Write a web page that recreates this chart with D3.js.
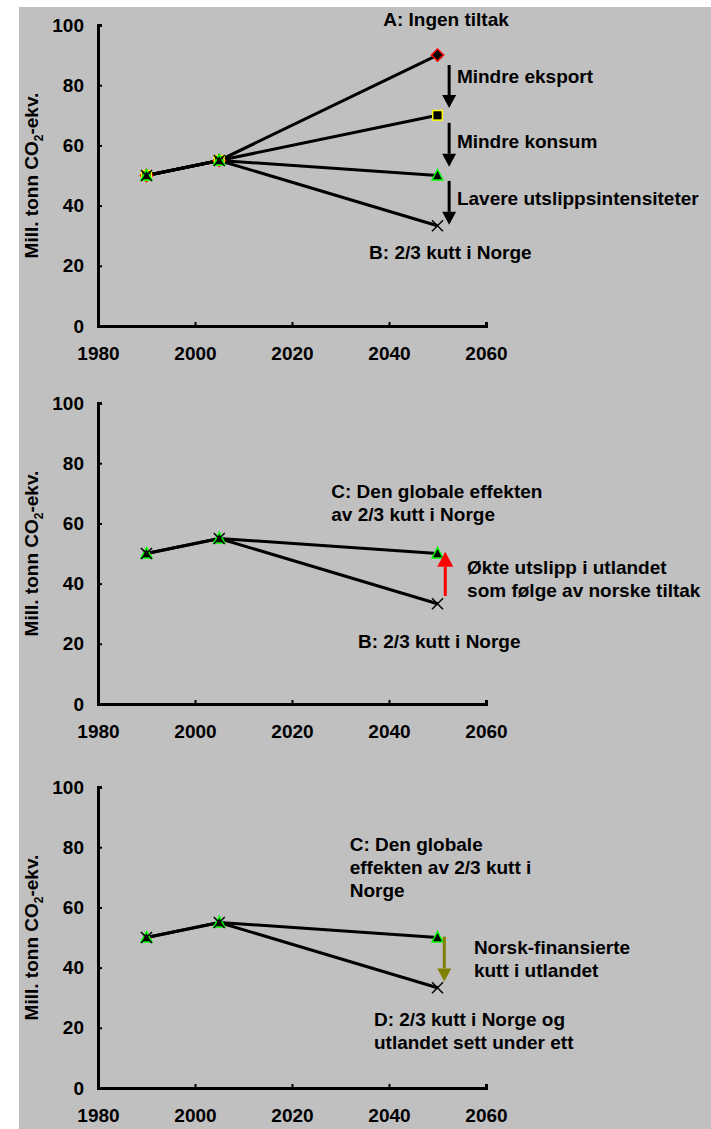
<!DOCTYPE html>
<html lang="no">
<head>
<meta charset="UTF-8" />
<title>Utslipp</title>
<script src="https://cdn.jsdelivr.net/npm/d3@7/dist/d3.min.js"></script>
<style>
  body { margin: 0; background: #fff; }
  svg text { font-family: "Liberation Sans", Arial, sans-serif; font-weight: bold; }
</style>
</head>
<body>
<script>
// data
const years = [1990, 2005, 2050];
const ingenTiltak = [50, 55, 90];     // A, diamond
const mindreEksport = [50, 55, 70];   // square
const globalEffekt = [50, 55, 50];    // C, triangle
const kuttNorge = [50, 55, 33.3];     // B / D, cross
const yTicks = [0, 20, 40, 60, 80, 100];
const xTicks = [1980, 2000, 2020, 2040, 2060];

const W = 711, H = 1129;
const left = 98, right = 486, plotH = 301;

const svg = d3.select('body').append('svg')
  .attr('width', W).attr('height', H);

svg.append('rect')
  .attr('x', 19).attr('y', 7)
  .attr('width', W - 19).attr('height', H - 7)
  .attr('fill', '#c0c0c0');

const x = d3.scaleLinear().domain([1980, 2060]).range([left, right]);

// panels: series drawn + annotations (in data units)
const panels = [
  {
    top: 25,
    series: [
      { values: ingenTiltak, mark: 'diamond' },
      { values: mindreEksport, mark: 'square' },
      { values: globalEffekt, mark: 'triangle' },
      { values: kuttNorge, mark: 'cross' }
    ],
    labels: [
      { x: 2038.8, y: 99.7, lines: ['A: Ingen tiltak'] },
      { x: 2054.0, y: 80.7, lines: ['Mindre eksport'] },
      { x: 2054.0, y: 59.1, lines: ['Mindre konsum'] },
      { x: 2054.0, y: 40.2, lines: ['Lavere utslippsintensiteter'] },
      { x: 2035.9, y: 22.3, lines: ['B: 2/3 kutt i Norge'] }
    ],
    arrows: [
      { x: 2052.4, from: 86.7, to: 72.4, color: '#000', w: 14, h: 13 },
      { x: 2052.4, from: 67.5, to: 52.9, color: '#000', w: 14, h: 13 },
      { x: 2052.4, from: 48.2, to: 33.6, color: '#000', w: 14, h: 13 }
    ]
  },
  {
    top: 403,
    series: [
      { values: globalEffekt, mark: 'triangle' },
      { values: kuttNorge, mark: 'cross' }
    ],
    labels: [
      { x: 2028.1, y: 68.4, lines: ['C: Den globale effekten', 'av 2/3 kutt i Norge'] },
      { x: 2056.1, y: 43.1, lines: ['Økte utslipp i utlandet', 'som følge av norske tiltak'] },
      { x: 2033.6, y: 18.5, lines: ['B: 2/3 kutt i Norge'] }
    ],
    arrows: [
      { x: 2051.6, from: 35.9, to: 50.6, color: '#ff0000', w: 16, h: 15 }
    ]
  },
  {
    top: 787,
    series: [
      { values: globalEffekt, mark: 'triangle' },
      { values: kuttNorge, mark: 'cross' }
    ],
    labels: [
      { x: 2031.9, y: 78.7, lines: ['C: Den globale', 'effekten av 2/3 kutt i', 'Norge'] },
      { x: 2057.5, y: 44.5, lines: ['Norsk-finansierte', 'kutt i utlandet'] },
      { x: 2036.9, y: 20.5, lines: ['D: 2/3 kutt i Norge og', 'utlandet sett under ett'] }
    ],
    arrows: [
      { x: 2051.4, from: 50.3, to: 35.4, color: '#808000', w: 14, h: 13 }
    ]
  }
];

const line = (y) => d3.line().x((d, i) => x(years[i])).y(d => y(d));

function drawMark(g, type, cx, cy) {
  if (type === 'diamond') {
    g.append('rect')
      .attr('x', -4.3).attr('y', -4.3).attr('width', 8.6).attr('height', 8.6)
      .attr('transform', `translate(${cx},${cy}) rotate(45)`)
      .attr('fill', '#000').attr('stroke', '#ff0000').attr('stroke-width', 1.5);
  } else if (type === 'square') {
    g.append('rect')
      .attr('x', cx - 4.8).attr('y', cy - 4.8).attr('width', 9.6).attr('height', 9.6)
      .attr('fill', '#000').attr('stroke', '#ffff00').attr('stroke-width', 1.5);
  } else if (type === 'triangle') {
    g.append('path')
      .attr('d', `M${cx},${cy - 6}L${cx + 5.5},${cy + 4.5}L${cx - 5.5},${cy + 4.5}Z`)
      .attr('fill', '#000').attr('stroke', '#00ff00').attr('stroke-width', 1.5);
  } else {
    g.append('path')
      .attr('d', `M${cx - 5.5},${cy - 5.5}L${cx + 5.5},${cy + 5.5}M${cx - 5.5},${cy + 5.5}L${cx + 5.5},${cy - 5.5}`)
      .attr('stroke', '#000').attr('stroke-width', 1.5).attr('fill', 'none');
  }
}

panels.forEach(p => {
  const y = d3.scaleLinear().domain([0, 100]).range([p.top + plotH, p.top]);
  const g = svg.append('g');

  // axes
  const yAxis = g.append('g')
    .attr('transform', `translate(${left},0)`)
    .call(d3.axisLeft(y).tickValues(yTicks).tickSizeInner(-4).tickSizeOuter(-4).tickPadding(14));
  const xAxis = g.append('g')
    .attr('transform', `translate(0,${p.top + plotH})`)
    .call(d3.axisBottom(x).tickValues(xTicks).tickFormat(d3.format('d'))
      .tickSizeInner(-4).tickSizeOuter(-4).tickPadding(21));

  [yAxis, xAxis].forEach(a => {
    a.attr('font-family', null).attr('font-size', null);
    a.select('.domain').attr('stroke', '#000').attr('stroke-width', 3);
    a.selectAll('.tick line').attr('stroke', '#000').attr('stroke-width', 2);
    a.selectAll('.tick text').attr('fill', '#000').style('font-size', '19px');
  });

  // y title
  const t = g.append('text')
    .attr('transform', `translate(38,${(y(0) + y(100)) / 2}) rotate(-90)`)
    .attr('text-anchor', 'middle')
    .style('font-size', '19px');
  t.append('tspan').text('Mill. tonn CO');
  t.append('tspan').text('2').style('font-size', '12px').attr('dy', 5);
  t.append('tspan').text('-ekv.').attr('dy', -5);

  // lines
  p.series.forEach(s => {
    g.append('path')
      .datum(s.values)
      .attr('d', line(y))
      .attr('fill', 'none')
      .attr('stroke', '#000')
      .attr('stroke-width', 3);
  });

  // markers
  p.series.forEach(s => {
    s.values.forEach((v, i) => drawMark(g, s.mark, x(years[i]), y(v)));
  });

  // arrows
  p.arrows.forEach(a => {
    const ax = x(a.x), y0 = y(a.from), y1 = y(a.to);
    const dir = y1 > y0 ? 1 : -1;
    const base = y1 - dir * a.h;
    g.append('line')
      .attr('x1', ax).attr('x2', ax).attr('y1', y0).attr('y2', base)
      .attr('stroke', a.color).attr('stroke-width', 3);
    g.append('path')
      .attr('d', `M${ax - a.w / 2},${base}L${ax + a.w / 2},${base}L${ax},${y1}Z`)
      .attr('fill', a.color);
  });

  // labels
  p.labels.forEach(l => {
    const txt = g.append('text')
      .attr('x', x(l.x)).attr('y', y(l.y))
      .style('font-size', '19px')
      .attr('fill', '#000');
    l.lines.forEach((s, i) => {
      txt.append('tspan').attr('x', x(l.x)).attr('dy', i === 0 ? 0 : 23).text(s);
    });
  });
});
</script>
</body>
</html>
